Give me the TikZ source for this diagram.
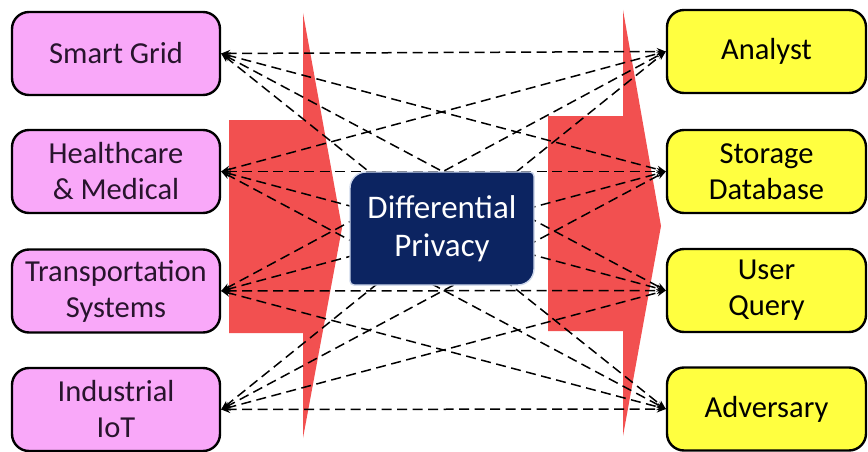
\documentclass[tikz,border=0pt]{standalone}
\usepackage{fontspec}
\setmainfont{Carlito}
\usetikzlibrary{arrows.meta}
\definecolor{pinkbox}{RGB}{249,168,249}
\definecolor{yellowbox}{RGB}{255,255,64}
\definecolor{arrowred}{RGB}{242,80,80}
\definecolor{dpnavy}{RGB}{12,36,97}
\definecolor{dpedge}{RGB}{205,215,235}
\definecolor{srctext}{RGB}{40,20,45}
\begin{document}
\begin{tikzpicture}[x=1pt,y=-1pt,
  basebox/.style={draw=black, line width=2.4pt, rounded corners=17pt, minimum height=83pt,
    inner sep=0pt, align=center, font=\fontsize{30.5}{36}\selectfont},
  srcbox/.style={basebox, fill=pinkbox, text=srctext, minimum width=208pt},
  dstbox/.style={basebox, fill=yellowbox, text=black, minimum width=199pt},
  dptext/.style={align=center, text=white, font=\fontsize{33}{38}\selectfont,
    minimum width=184pt, minimum height=113pt, inner sep=0pt},
  link/.style={draw=black, line width=1.5pt, dash pattern=on 10pt off 5.5pt,
    {Stealth[length=9pt,width=7pt]}-{Stealth[length=9pt,width=7pt]}},
  bigarrow/.style={fill=arrowred}]
\useasboundingbox (0,0) rectangle (868,452);

% red block arrows
\fill[bigarrow] (229,120) -- (303,120) -- (303,13) -- (342,228) -- (303,438) -- (303,333) -- (229,333) -- cycle;
\fill[bigarrow] (548,116) -- (623,116) -- (623,10) -- (661,226) -- (623,436) -- (623,331) -- (548,331) -- cycle;

% boxes
\node[srcbox] (sg) at (116,53.5) {Smart Grid};
\node[srcbox] (hc) at (116,171.5) {Healthcare\\\& Medical};
\node[srcbox] (ts) at (116,291) {Transportation\\Systems};
\node[srcbox] (iot) at (116,409.5) {Industrial\\IoT};

\node[dstbox] (an) at (766.5,51.5) {Analyst};
\node[dstbox] (sd) at (766.5,171.5) {Storage\\Database};
\node[dstbox] (uq) at (766.5,290.5) {User\\Query};
\node[dstbox] (ad) at (766.5,409) {Adversary};

% links
\foreach \l in {sg,hc,ts,iot}{
  \foreach \r in {an,sd,uq,ad}{
    \draw[link] (\l.east) -- (\r.west);
  }
}

% differential privacy box
\filldraw[fill=dpnavy, draw=dpedge, line width=1.4pt]
  (350,188) .. controls (350,179.2) and (357.2,172) .. (366,172)
  -- (530,172) .. controls (532.2,172) and (534,173.8) .. (534,176)
  -- (534,269) .. controls (534,277.8) and (526.8,285) .. (518,285)
  -- (354,285) .. controls (351.8,285) and (350,283.2) .. (350,281) -- cycle;
\node[dptext] (dp) at (442,228.5) {Differential\\Privacy};
\end{tikzpicture}
\end{document}
